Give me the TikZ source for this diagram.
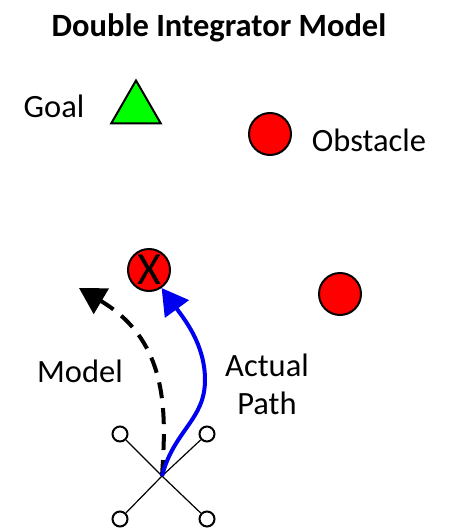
\documentclass[tikz,border=0pt]{standalone}
\usepackage{fontspec}
\setmainfont{Carlito}
\usetikzlibrary{arrows.meta,shapes.geometric}
\definecolor{goalgreen}{RGB}{0,255,0}
\definecolor{obsred}{RGB}{255,0,0}
\definecolor{pathblue}{RGB}{0,0,240}
\tikzset{
  x=1pt,y=-1pt,
  obstacle/.style={circle,draw=black,fill=obsred,line width=2pt,minimum size=42pt,inner sep=0pt},
  rotor/.style={circle,draw=black,fill=white,line width=2pt,minimum size=15pt,inner sep=0pt},
  goalmark/.style={regular polygon,regular polygon sides=3,draw=black,fill=goalgreen,line width=2pt,inner sep=0pt,minimum size=57pt},
  arm/.style={draw=black,line width=1.2pt},
  label/.style={font=\fontsize{32.5}{38}\selectfont,text=black,align=center,inner sep=0pt},
  headline/.style={font=\fontsize{32.5}{36}\selectfont\bfseries,text=black,inner sep=0pt},
  bigtip/.style={-{Triangle[length=26pt,width=29pt]}},
}
\begin{document}
\begin{tikzpicture}
\useasboundingbox (0,0) rectangle (454,530);
\node[headline] (title) at (219,28) {Double Integrator Model};
\node[label] (goallabel) at (54,106) {Goal};
\node[label] (obstaclelabel) at (369,140) {Obstacle};
\node[label] (modellabel) at (80,371) {Model};
\node[label] (actuallabel) at (267,384) {Actual\\Path};
\node[goalmark] (goal) at (136,109) {};
\node[obstacle] (obsA) at (270,134) {};
\node[obstacle] (obsB) at (340,294) {};
\node[obstacle,font=\fontsize{46}{46}\selectfont] (obsC) at (149,270) {X};
\coordinate (center) at (162,476);
\coordinate (modelend) at (79,288);
\node[rotor] (r1) at (120,434) {};
\node[rotor] (r2) at (207,434) {};
\node[rotor] (r3) at (120,519) {};
\node[rotor] (r4) at (207,519) {};
\draw[arm] (center) -- (r1);
\draw[arm] (center) -- (r2);
\draw[arm] (center) -- (r3);
\draw[arm] (center) -- (r4);
\draw[bigtip,line width=4pt,dash pattern=on 16pt off 10pt,black] (center) .. controls (166,415) and (170,342) .. (modelend);
\draw[bigtip,line width=4pt,pathblue] (center) .. controls (174,430) and (205,420) .. (205,380) .. controls (205,345) and (185,320) .. (obsC.305);
\end{tikzpicture}
\end{document}
